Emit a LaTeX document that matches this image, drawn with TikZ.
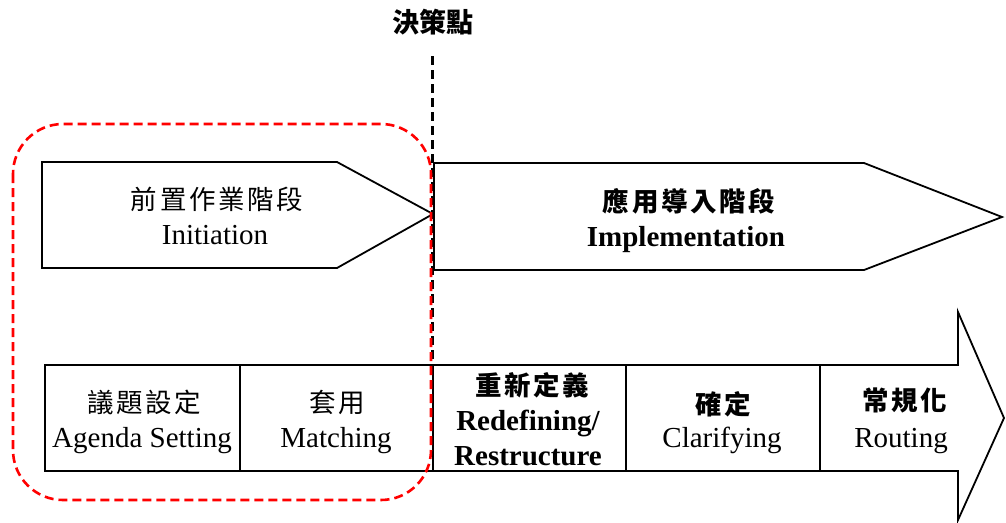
\documentclass[tikz,border=0pt]{standalone}
\usepackage{fontspec}
\setmainfont{Liberation Serif}
\newfontfamily\cjk[LetterSpace=10]{Noto Sans CJK TC}
\newfontfamily\cjkb{Noto Sans CJK TC}
\begin{document}
\begin{tikzpicture}[x=1pt,y=-1pt,
  outl/.style={draw=black,line width=1.8pt,fill=white},
  en/.style={font=\fontsize{29}{32}\selectfont,inner sep=0pt,anchor=base},
  enb/.style={font=\fontsize{29}{32}\selectfont\bfseries,inner sep=0pt,anchor=base},
  zh/.style={font=\fontsize{26.5}{28}\selectfont\cjk,inner sep=0pt},
  zhb/.style={font=\fontsize{26.5}{28}\selectfont\cjk\bfseries,inner sep=0pt},
  decision/.style={draw=black,line width=3.2pt,dash pattern=on 9pt off 5pt},
  group/.style={draw=red,line width=2.6pt,dash pattern=on 9pt off 5pt,rounded corners=50pt}]
\useasboundingbox (0,0) rectangle (1006,522);
\fill[white] (0,0) rectangle (1006,522);
% upper phases
\draw[outl] (42,162) -- (337,162) -- (433,214) -- (337,268) -- (42,268) -- cycle;
\draw[outl] (434,163) -- (864,163) -- (1002,217) -- (864,270) -- (434,270) -- cycle;
% bottom arrow
\draw[outl] (433,365) -- (958,365) -- (958,312) -- (1004,418) -- (958,520) -- (958,471) -- (433,471) -- cycle;
\draw[outl] (45,365) rectangle (433,471);
\draw[draw=black,line width=1.8pt] (240,365) -- (240,471);
\draw[draw=black,line width=1.8pt] (626,365) -- (626,471);
\draw[draw=black,line width=1.8pt] (820,365) -- (820,471);
% texts
\node[zh] (initzh) at (217,199) {前置作業階段};
\node[en] (initen) at (215,244) {Initiation};
\node[zhb] (implzh) at (689,201) {應用導入階段};
\node[enb] (implen) at (686,246) {Implementation};
\node[zh] (agzh) at (144,402) {議題設定};
\node[en] (agen) at (142,447) {Agenda Setting};
\node[zh] (matzh) at (337,402) {套用};
\node[en] (maten) at (336,447) {Matching};
\node[zhb] (redzh) at (532,385) {重新定義};
\node[enb] (reden) at (528,430) {Redefining/};
\node[enb] (resen) at (528,465) {Restructure};
\node[zhb] (clazh) at (723,404) {確定};
\node[en] (claen) at (722,447) {Clarifying};
\node[zhb] (rouzh) at (905,400) {常規化};
\node[en] (rouen) at (901,447) {Routing};
% decision point
\node[font=\fontsize{27}{29}\selectfont\cjkb\bfseries,inner sep=0pt] (dp) at (433,22) {決策點};
\coordinate (dptop) at (432.5,56);
\coordinate (dpend) at (432.5,365);
\draw[decision] (dptop) -- (dpend);
% grouping
\draw[group] (13,124) rectangle (431,500);
\end{tikzpicture}
\end{document}
